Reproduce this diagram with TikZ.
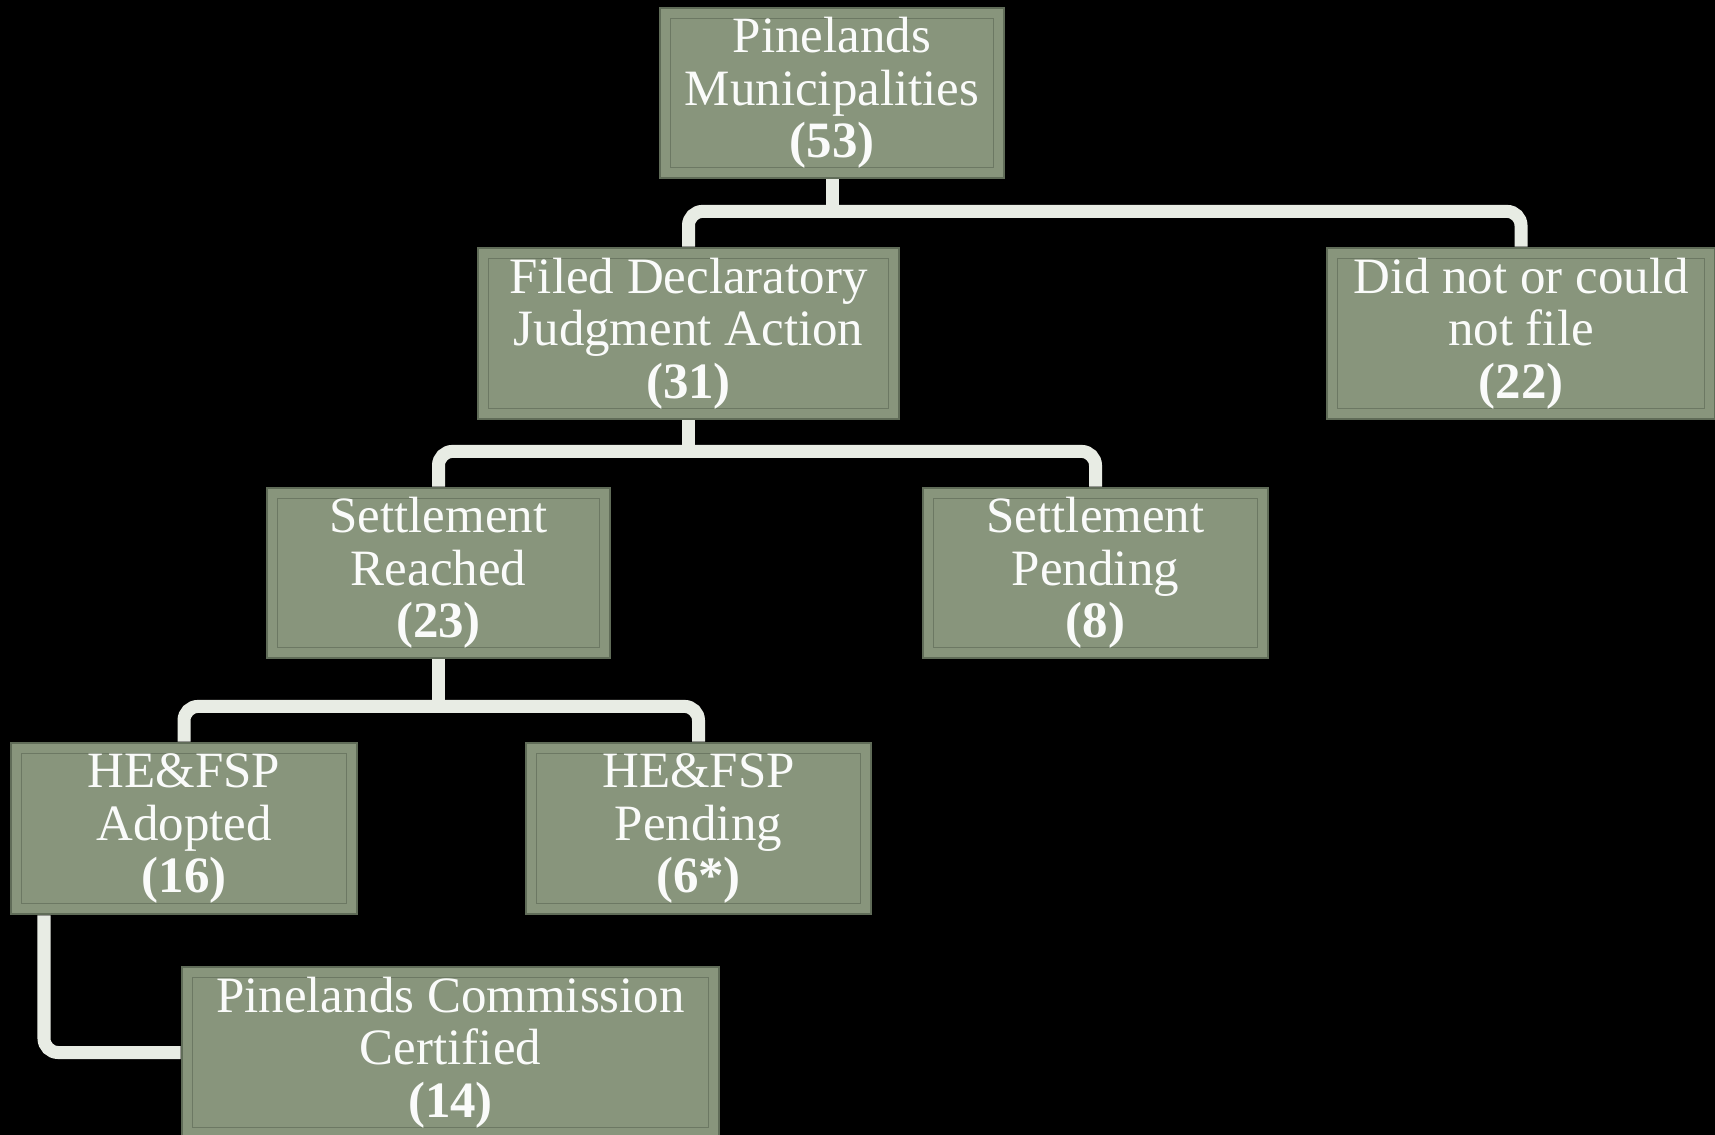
\documentclass[tikz,border=0pt]{standalone}
\usepackage{fontspec}
\setmainfont{Liberation Serif}
\usepackage{tikz}

\definecolor{boxfill}{RGB}{136,149,124}
\definecolor{boxedge}{RGB}{96,108,88}
\definecolor{linkcol}{RGB}{232,236,228}

\begin{document}
\begin{tikzpicture}
\tikzstyle{every node}=[font=\fontsize{14.5}{15}\selectfont, text=white!96!boxfill]
\tikzstyle{box}=[rectangle, fill=boxfill, draw=boxedge, line width=0.8pt, align=center,
  inner sep=0pt,
  path picture={\draw[boxedge!70!boxfill, line width=0.3pt]
    ([shift={(3pt,-3pt)}]path picture bounding box.north west) rectangle
    ([shift={(-3pt,3pt)}]path picture bounding box.south east);}]
\tikzstyle{link}=[draw=linkcol, line width=3.7pt, rounded corners=4pt]

\fill[black] (0,0) rectangle (17.15,-11.35);
\useasboundingbox (0,0) rectangle (17.15,-11.35);

\node[box, minimum width=3.44cm, minimum height=1.70cm] at (8.32,-0.93) (P) {Pinelands\\Municipalities\\\textbf{(53)}};
\node[box, minimum width=4.21cm, minimum height=1.71cm] at (6.885,-3.335) (F) {Filed Declaratory\\Judgment Action\\\textbf{(31)}};
\node[box, minimum width=3.88cm, minimum height=1.71cm] at (15.21,-3.335) (D) {Did not or could\\not file\\\textbf{(22)}};
\node[box, minimum width=3.43cm, minimum height=1.70cm] at (4.385,-5.73) (SR) {Settlement\\Reached\\\textbf{(23)}};
\node[box, minimum width=3.45cm, minimum height=1.70cm] at (10.955,-5.73) (SP) {Settlement\\Pending\\\textbf{(8)}};
\node[box, minimum width=3.46cm, minimum height=1.71cm] at (1.84,-8.285) (HA) {HE\&FSP\\Adopted\\\textbf{(16)}};
\node[box, minimum width=3.45cm, minimum height=1.71cm] at (6.985,-8.285) (HP) {HE\&FSP\\Pending\\\textbf{(6*)}};
\node[box, minimum width=5.37cm, minimum height=1.71cm] at (4.505,-10.525) (PC) {Pinelands Commission\\Certified\\\textbf{(14)}};

\draw[link] (P.south) -- ([yshift=-0.32cm]P.south);
\draw[link] (F.north) |- ([yshift=-0.32cm]P.south) -| (D.north);
\draw[link] (F.south) -- ([yshift=-0.31cm]F.south);
\draw[link] (SR.north) |- ([yshift=-0.31cm]F.south) -| (SP.north);
\draw[link] (SR.south) -- ([yshift=-0.47cm]SR.south);
\draw[link] (HA.north) |- ([yshift=-0.47cm]SR.south) -| (HP.north);
\draw[link] (HA.south -| 0.44,0) |- (PC.west);
\end{tikzpicture}
\end{document}
